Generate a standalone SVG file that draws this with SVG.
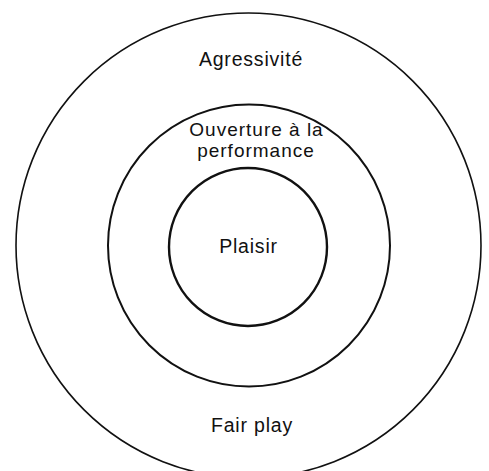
<svg xmlns="http://www.w3.org/2000/svg" width="489" height="471" viewBox="0 0 489 471">
<style>
.ring{fill:none;stroke:#111;}
.lbl{font-family:"Liberation Sans",Arial,sans-serif;font-size:19.5px;fill:#111;text-anchor:middle;letter-spacing:0.8px;}
.tight{font-size:19px;letter-spacing:1px;}
</style>
<rect width="489" height="471" fill="#fff"/>
<g id="outer">
<circle class="ring" cx="248.5" cy="245.5" r="232.5" stroke-width="1.6"/>
<text class="lbl" x="251" y="66">Agressivité</text>
<text class="lbl" x="252" y="432">Fair play</text>
</g>
<g id="middle">
<circle class="ring" cx="249" cy="245.5" r="141" stroke-width="2"/>
<text class="lbl tight" x="256.5" y="136">Ouverture à la</text>
<text class="lbl tight" x="256" y="157">performance</text>
</g>
<g id="inner">
<circle class="ring" cx="248" cy="247" r="79" stroke-width="2.4"/>
<text class="lbl" x="248.5" y="253">Plaisir</text>
</g>
<g id="connectors"/>
</svg>
